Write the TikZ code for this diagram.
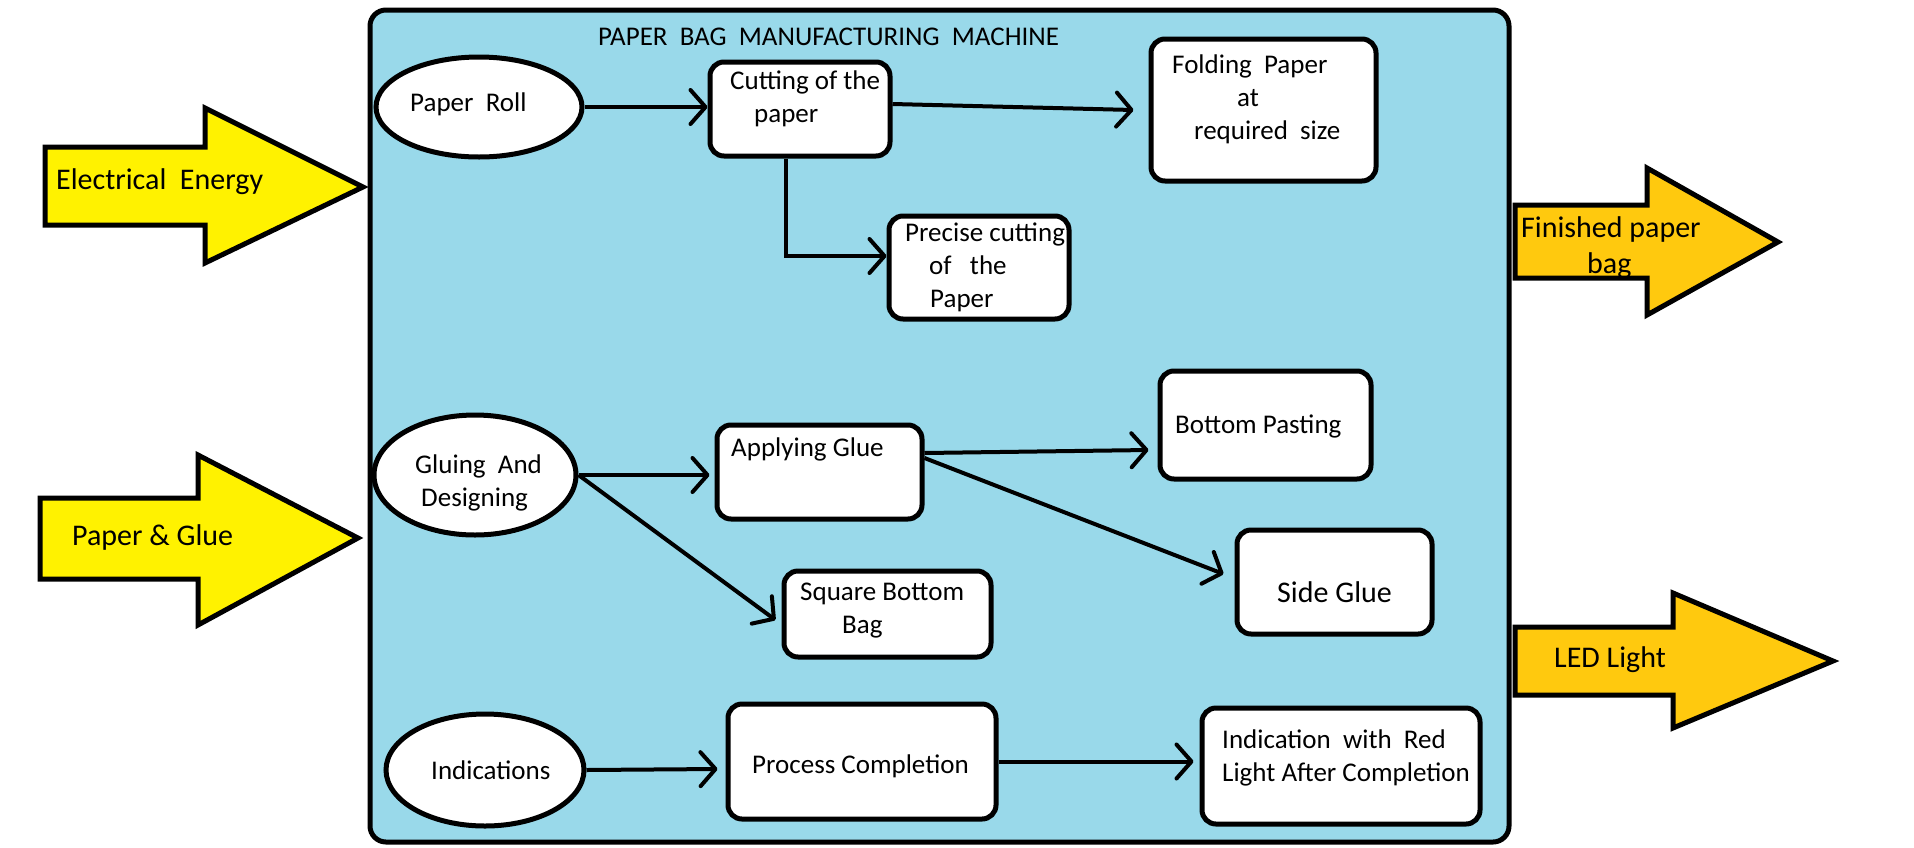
\documentclass[tikz,border=0pt]{standalone}
\usepackage{fontspec}
\setmainfont{Carlito}
\usetikzlibrary{arrows.meta,shapes.geometric}
\definecolor{machineblue}{RGB}{153,217,234}
\definecolor{inyellow}{RGB}{255,242,0}
\definecolor{outgold}{RGB}{255,201,14}
\begin{document}
\begin{tikzpicture}[x=1pt,y=-1pt,
  txt/.style={inner sep=0pt,font=\fontsize{27}{33}\selectfont,align=left},
  bigtxt/.style={txt,font=\fontsize{30}{36}\selectfont},
  stepbox/.style={draw,line width=5pt,fill=white,rounded corners=14pt,inner sep=0pt},
  oval/.style={draw,ellipse,line width=5pt,fill=white,inner sep=0pt},
  conn/.style={line width=4pt,-{Straight Barb[length=15pt,width=34pt,round]}},
  bigarrow/.style={draw,line width=5pt,line join=miter}]
\useasboundingbox (0,0) rectangle (1914,847);
% machine frame
\draw[line width=5pt,fill=machineblue,rounded corners=16pt] (370,10) rectangle (1509,842);
\node[txt,anchor=west] (title) at (598,37) {PAPER\ \ BAG\ \ MANUFACTURING\ \ MACHINE};
% input arrows
\draw[bigarrow,fill=inyellow] (45,147) -- (205,147) -- (205,108) -- (363,187) -- (205,263) -- (205,225) -- (45,225) -- cycle;
\node[bigtxt,anchor=west] (elec) at (56,182) {Electrical\ \ Energy};
\draw[bigarrow,fill=inyellow] (40,498) -- (198,498) -- (198,455) -- (358,538) -- (198,625) -- (198,579) -- (40,579) -- cycle;
\node[bigtxt,anchor=west] (pg) at (72,537) {Paper \& Glue};
% output arrows
\draw[bigarrow,fill=outgold] (1515,205) -- (1647,205) -- (1647,168) -- (1778,242) -- (1647,315) -- (1647,278) -- (1515,278) -- cycle;
\node[bigtxt,anchor=north west] (fin) at (1521,216) {Finished paper\\\hspace*{66pt}bag};
\draw[bigarrow,fill=outgold] (1515,627) -- (1673,627) -- (1673,593) -- (1833,661) -- (1673,728) -- (1673,695) -- (1515,695) -- cycle;
\node[bigtxt,anchor=west] (led) at (1554,660) {LED Light};
% ovals
\node[oval,minimum width=206pt,minimum height=100pt] (roll) at (479,107) {};
\node[txt,anchor=west] at (410,104) {Paper\ \ Roll};
\node[oval,minimum width=202pt,minimum height=120pt] (glue) at (475,475) {};
\node[txt,anchor=north west] at (415,455) {Gluing\ \ And\\\hspace*{6pt}Designing};
\node[oval,minimum width=198pt,minimum height=112pt] (ind) at (485,770) {};
\node[txt,anchor=west] at (431,770) {Indications};
% boxes
\node[stepbox,minimum width=180pt,minimum height=94pt] (cut) at (800,109) {};
\node[txt,anchor=north west] at (730,71) {Cutting of the\\\hspace*{24pt}paper};
\node[stepbox,minimum width=225pt,minimum height=142pt] (fold) at (1263.5,110) {};
\node[txt,anchor=north west] at (1172,55) {Folding\ \ Paper\\\hspace*{65pt}at\\\hspace*{22pt}required\ \ size};
\node[stepbox,minimum width=180pt,minimum height=103pt] (prec) at (979,267.5) {};
\node[txt,anchor=north west] at (905,223) {Precise cutting\\\hspace*{24pt}of\ \ \ the\\\hspace*{25pt}Paper};
\node[stepbox,minimum width=205pt,minimum height=94pt] (apply) at (819.5,472) {};
\node[txt,anchor=west] at (731,449) {Applying Glue};
\node[stepbox,minimum width=211pt,minimum height=108pt] (bottom) at (1265.5,425) {};
\node[txt,anchor=west] at (1175,426) {Bottom Pasting};
\node[stepbox,minimum width=195pt,minimum height=104pt] (side) at (1334.5,582) {};
\node[bigtxt,anchor=west] at (1277,592) {Side Glue};
\node[stepbox,minimum width=207pt,minimum height=86pt] (square) at (887.5,614) {};
\node[txt,anchor=north west] at (800,583) {Square Bottom\\\hspace*{42pt}Bag};
\node[stepbox,minimum width=268pt,minimum height=115pt] (proc) at (862,761.5) {};
\node[txt,anchor=west] at (752,766) {Process Completion};
\node[stepbox,minimum width=278pt,minimum height=116pt] (indic) at (1341,766) {};
\node[txt,anchor=north west] at (1222,730) {Indication\ \ with\ \ Red\\Light After Completion};
% connectors
\draw[conn] (roll.east) -- (roll.east -| cut.west);
\draw[conn] ([yshift=5pt]cut.east) -- ([xshift=-15pt]fold.west);
\draw[conn] ([xshift=-14pt]cut.south) |- ([yshift=11.5pt]prec.west);
\draw[conn] (glue.east) -- ([xshift=-5pt]glue.east -| apply.west);
\draw[conn] (glue.east) -- ([xshift=-6pt,yshift=-6pt]square.west);
\draw[conn] ([yshift=19pt]apply.east) -- ([xshift=-9pt,yshift=-25pt]bottom.west);
\draw[conn] ([yshift=14pt]apply.east) -- ([xshift=-11pt,yshift=8pt]side.west);
\draw[conn] (ind.east) -- ([xshift=-8pt,yshift=-7.5pt]proc.west);
\draw[conn] (proc.east) -- ([xshift=-6pt]proc.east -| indic.west);
\end{tikzpicture}
\end{document}
